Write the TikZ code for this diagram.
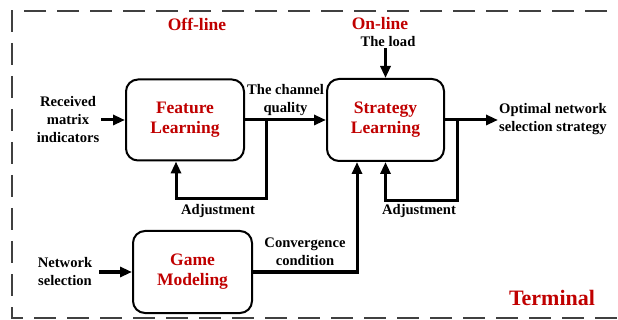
\documentclass[tikz,border=0pt]{standalone}
\usepackage{fontspec}
\setmainfont{Liberation Serif}
\usetikzlibrary{arrows.meta}
\definecolor{deepred}{HTML}{C00000}
\definecolor{frame}{HTML}{404040}
\tikzset{
  blk/.style={draw, line width=2pt, rounded corners=12pt, align=center,
    text=deepred, font=\bfseries\fontsize{17.5}{20}\selectfont, inner sep=0pt},
  lbl/.style={align=center, font=\bfseries\fontsize{14.6}{18}\selectfont, inner sep=1pt},
  head/.style={text=deepred, font=\bfseries\fontsize{17.5}{20}\selectfont, inner sep=0pt},
  arr/.style={line width=3pt, -{Triangle[length=12pt,width=10pt]}},
  border/.style={draw=frame, line width=2.3pt, dash pattern=on 22pt off 11pt}
}
\begin{document}
\begin{tikzpicture}[x=1pt,y=-1pt]
\useasboundingbox (0,0) rectangle (618,320);
% terminal frame (right side runs past the page edge)
\draw[border] (640,11) -- (12,11) -- (12,318) -- (640,318);

% processing blocks
\node[blk, minimum width=118pt, minimum height=81pt] (feat) at (185,120) {Feature\\Learning};
\node[blk, minimum width=117pt, minimum height=82pt] (strat) at (385.5,120) {Strategy\\Learning};
\node[blk, minimum width=119pt, minimum height=82pt] (game) at (192.5,272) {Game\\Modeling};

% headings
\node[head] (offl) at (197,24) {Off-line};
\node[head] (onl) at (380,24) {On-line};
\node[text=deepred, font=\bfseries\fontsize{22}{26}\selectfont, inner sep=0pt] (term) at (552,298) {Terminal};

% signal labels
\node[lbl] (rmi) at (68,120) {Received\\matrix\\indicators};
\node[lbl] (ns) at (65,272) {Network\\selection};
\node[lbl] (chq) at (285.5,100) {The channel\\quality};
\node[lbl] (load) at (388,42) {The load};
\node[lbl, anchor=west] (out) at (498,119) {Optimal network\\selection strategy};
\node[lbl] (adj1) at (218,211) {Adjustment};
\node[lbl] (adj2) at (419,211) {Adjustment};
\node[lbl] (conv) at (305,252) {Convergence\\condition};

% feature learning path
\draw[arr, shorten <=1pt] (rmi.east) -- (feat.west);
\draw[arr] (feat.east) -- (strat.west);
\coordinate (fbtop) at (266,120);
\coordinate (fbbot) at (266,199);
\draw[arr] (fbtop) -- (fbbot) -| ([xshift=-9pt]feat.south);

% strategy learning path
\draw[arr] (load.south -| strat.north) -- (strat.north);
\draw[arr] (strat.east) -- (out.west |- strat.east);
\coordinate (sbtop) at (457,120);
\coordinate (sbbot) at (457,201);
\draw[arr] (sbtop) -- (sbbot) -| (strat.south);

% game modeling path
\draw[arr, shorten <=6pt] (ns.east) -- (game.west);
\draw[arr] (game.east) -| ([xshift=-28.5pt]strat.south);
\end{tikzpicture}
\end{document}
